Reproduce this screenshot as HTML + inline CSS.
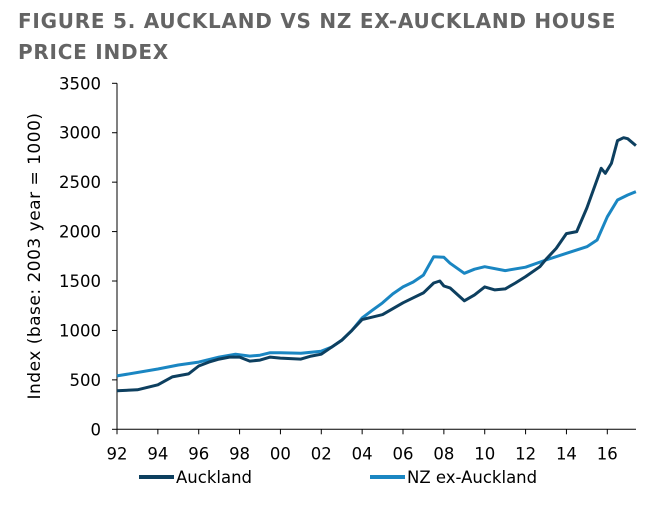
<!DOCTYPE html>
<html><head><meta charset="utf-8"><style>
body{margin:0;background:#fff;width:671px;height:505px;overflow:hidden;font-family:"DejaVu Sans","Liberation Sans",sans-serif}
.title{position:absolute;left:18px;top:6px;font-weight:bold;font-size:20px;line-height:31px;color:#646464;letter-spacing:0.75px}
</style></head><body>
<div class="title">FIGURE 5. AUCKLAND VS NZ EX-AUCKLAND HOUSE<br>PRICE INDEX</div>
<svg id="c" width="671" height="505" style="position:absolute;left:0;top:0"></svg>
<script>
const yTicks=[0,500,1000,1500,2000,2500,3000,3500];
const xTickYears=[1992,1994,1996,1998,2000,2002,2004,2006,2008,2010,2012,2014,2016];
const xTickLabels=["92","94","96","98","00","02","04","06","08","10","12","14","16"];
const aklYears=[1992,1993,1994,1994.7,1995.5,1996,1996.5,1997,1997.5,1998,1998.5,1999,1999.5,2000,2001,2001.5,2002,2002.5,2003,2003.5,2004,2005,2005.5,2006,2006.5,2007,2007.5,2007.8,2008,2008.3,2009,2009.5,2010,2010.5,2011,2011.5,2012,2012.7,2013,2013.5,2014,2014.5,2015,2015.7,2015.9,2016.2,2016.5,2016.8,2017,2017.4];
const aklValues=[390,400,450,530,560,640,680,710,730,730,690,700,730,720,710,740,760,830,900,1000,1110,1160,1220,1280,1330,1380,1480,1500,1450,1430,1300,1360,1440,1410,1420,1480,1545,1645,1720,1830,1980,2000,2240,2640,2590,2690,2920,2950,2940,2870];
const nzYears=[1992,1994,1995,1996,1997,1997.8,1998.5,1999,1999.5,2000,2001,2002,2002.5,2003,2003.5,2004,2004.5,2005,2005.5,2006,2006.5,2007,2007.5,2008,2008.3,2009,2009.5,2010,2011,2012,2013,2014,2015,2015.5,2016,2016.5,2017,2017.4];
const nzValues=[540,610,650,680,730,760,740,750,775,775,770,790,830,900,1000,1126,1205,1280,1370,1440,1490,1560,1746,1740,1680,1578,1620,1645,1605,1640,1713,1780,1847,1915,2150,2320,2370,2403];
const X0=117,X1=636,Y0=429.3,Y1=83.3;
const xs=y=>X0+(y-1992)*(607.3-117)/24;
const ys=v=>Y0-(v/3500)*(Y0-Y1);
const svg=document.getElementById('c');const NS='http://www.w3.org/2000/svg';
function mk(t,a){const e=document.createElementNS(NS,t);for(const k in a)e.setAttribute(k,a[k]);svg.appendChild(e);return e;}
let e=mk('line',{x1:X0,y1:Y0,x2:X0,y2:Y1,stroke:'#000','stroke-width':1});

e=mk('line',{x1:X0,y1:Y0,x2:X1,y2:Y0,stroke:'#000','stroke-width':1});

yTicks.forEach(v=>{const y=ys(v);
mk('line',{x1:X0-5,y1:y,x2:X0,y2:y,stroke:'#000'});
const t=mk('text',{x:X0-16,y:y+6,'text-anchor':'end','font-size':16.5,fill:'#000'});t.textContent=v;
});
xTickYears.forEach((yr,i)=>{const x=xs(yr);
mk('line',{x1:x,y1:Y0,x2:x,y2:Y0+5,stroke:'#000'});
const t=mk('text',{x:x,y:Y0+30,'text-anchor':'middle','font-size':16.5,fill:'#000'});t.textContent=xTickLabels[i];
});
e=mk('text',{x:0,y:0,'text-anchor':'middle','font-size':17,'letter-spacing':0.5,fill:'#000',transform:'translate(40,256) rotate(-90)'});
e.textContent='Index (base: 2003 year = 1000)';

function line(xa,va,col,name){const d=xa.map((y,i)=>(i?'L':'M')+xs(y).toFixed(1)+','+ys(va[i]).toFixed(1)).join('');
const p=mk('path',{d:d,fill:'none',stroke:col,'stroke-width':3,'stroke-linejoin':'round'});
}
line(nzYears,nzValues,'#1a86c2','nz-ex-auckland-line');
line(aklYears,aklValues,'#0d3f5f','auckland-line');
e=mk('line',{x1:139,y1:477,x2:174,y2:477,stroke:'#0d3f5f','stroke-width':4});

e=mk('text',{x:176,y:483,'font-size':16.5,fill:'#000'});e.textContent='Auckland';

e=mk('line',{x1:370,y1:477,x2:405,y2:477,stroke:'#1a86c2','stroke-width':4});

e=mk('text',{x:407,y:483,'font-size':16.5,fill:'#000'});e.textContent='NZ ex-Auckland';

</script>
</body></html>
